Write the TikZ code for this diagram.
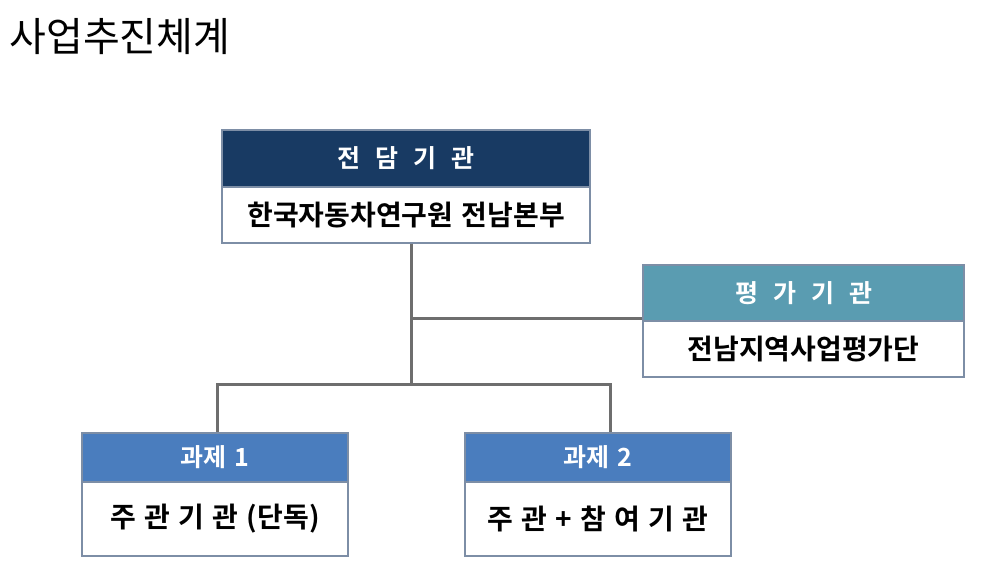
\documentclass[tikz,border=0pt]{standalone}
\usepackage{fontspec}
\newfontfamily\kr{Noto Sans CJK KR}
\newfontfamily\krb{Noto Sans CJK KR Bold}
\definecolor{navy}{HTML}{183A63}
\definecolor{teal}{HTML}{5A9CB1}
\definecolor{hblue}{HTML}{4A7DBE}
\definecolor{bord}{HTML}{7D8EA6}
\definecolor{conn}{HTML}{6E6E6E}
\newcommand{\gp}{\hspace{0.6em}}
\newcommand{\gs}{\hspace{0.3em}}
\tikzset{
  head/.style={draw=bord, line width=1.2pt, rectangle, inner sep=0pt, text=white, font=\krb\fontsize{25}{27}\selectfont},
  body/.style={draw=bord, line width=1.2pt, rectangle, inner sep=0pt, fill=white, text=black, font=\krb\fontsize{28}{30}\selectfont},
  link/.style={draw=conn, line width=3pt}
}
\begin{document}
\begin{tikzpicture}[x=1pt,y=-1pt]
\useasboundingbox[fill=white] (0,0) rectangle (982,584);
\node[anchor=west, font=\kr\fontsize{40}{44}\selectfont] (title) at (6,37) {사업추진체계};
% top
\node[head, fill=navy, minimum width=368pt, minimum height=57pt] (tophead) at (406,158.5) {전\gp 담\gp 기\gp 관};
\node[body, minimum width=368pt, minimum height=56pt] (topbody) at (406,215) {한국자동차연구원\gs 전남본부};
% eval
\node[head, fill=teal, minimum width=321pt, minimum height=56pt] (evalhead) at (803.5,293) {평\gp 가\gp 기\gp 관};
\node[body, minimum width=321pt, minimum height=56pt] (evalbody) at (803.5,349) {전남지역사업평가단};
% tasks
\node[head, fill=hblue, minimum width=266pt, minimum height=49pt] (t1head) at (215,457.5) {과제\gs 1};
\node[body, minimum width=266pt, minimum height=74pt] (t1body) at (215,519) {주\gs 관\gs 기\gs 관\gs (단독)};
\node[head, fill=hblue, minimum width=266pt, minimum height=49pt] (t2head) at (598,457.5) {과제\gs 2};
\node[body, minimum width=266pt, minimum height=74pt] (t2body) at (598,519) {주\gs 관\gs +\gs 참\gs 여\gs 기\gs 관};
% connectors
\coordinate (jtop) at (411,243.6);
\coordinate (jeval) at (411,318);
\coordinate (jbot) at (411,385);
\coordinate (bl) at (217,384);
\coordinate (br) at (610,384);
\draw[link] (jtop) -- (jbot);
\draw[link] (jeval) -- (jeval -| evalhead.west);
\draw[link, line cap=rect] (bl) -- (br);
\draw[link] (bl) -- (bl |- t1head.north);
\draw[link] (br) -- (br |- t2head.north);
\end{tikzpicture}
\end{document}
